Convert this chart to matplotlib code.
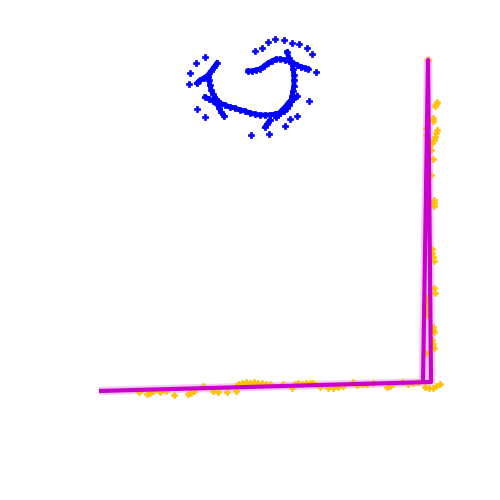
import numpy as np
import matplotlib
matplotlib.use("Agg")
import matplotlib.pyplot as plt

# coordinates (x to the right, y upwards)
# blue: loose points around the shape
blue_x = [25.5, 26.2, 26.8, 27.5, 28.4, 29.2, 29.9, 30.7, 31.2, 31.6, 30.9, 29.7,
          29.0, 28.5, 26.9, 25.1, 20.5, 19.7, 18.9, 19.0, 19.6, 20.5]
blue_y = [44.9, 45.2, 45.8, 46.1, 46.0, 45.7, 45.6, 45.2, 44.6, 42.8, 39.9, 38.4,
          38.1, 37.4, 36.6, 36.5, 38.3, 39.1, 41.6, 42.7, 43.7, 44.3]

# blue: dense strokes of the shape
arm_x = [21.7, 21.4, 21.1, 20.8, 20.4, 20.0, 19.7]
arm_y = [43.7, 43.3, 42.9, 42.5, 42.2, 42.0, 41.7]
c_x = [20.8, 20.9, 21.0, 21.1, 21.3, 21.6, 22.0, 22.5, 23.0, 23.5, 24.0, 24.5,
       25.0, 25.5, 26.0, 26.5, 27.0, 27.5, 28.0, 28.4, 28.7, 28.9, 29.1, 29.2,
       29.3, 29.4, 29.4, 29.4, 29.3, 29.2, 28.9, 28.7]
c_y = [42.3, 42.0, 41.5, 41.0, 40.6, 40.1, 39.7, 39.5, 39.3, 39.2, 39.0, 38.9,
       38.7, 38.6, 38.5, 38.5, 38.5, 38.6, 38.7, 38.9, 39.2, 39.5, 39.9, 40.4,
       40.9, 41.4, 42.0, 42.5, 43.1, 43.7, 44.2, 44.8]
top_x = [24.8, 25.2, 25.6, 26.0, 26.4, 26.8, 27.2, 27.6, 28.0, 28.5, 28.9, 29.3,
         29.7, 30.1, 30.5, 30.8]
top_y = [42.9, 42.9, 43.0, 43.1, 43.4, 43.7, 43.9, 44.1, 44.1, 44.0, 43.9, 43.7,
         43.5, 43.3, 43.2, 43.1]
left_arm_x = [20.5, 20.9, 21.3, 21.7, 21.9, 22.1, 22.4]
left_arm_y = [40.3, 40.1, 39.9, 39.6, 39.2, 38.8, 38.4]
right_arm_x = [29.7, 29.3, 28.9, 28.5, 28.1, 27.8, 27.6]
right_arm_y = [40.4, 40.1, 39.8, 39.3, 38.9, 38.5, 38.3]
short_x = [27.0, 26.7, 26.5]
short_y = [38.0, 37.6, 37.3]

# yellow points along the bottom edge
gold_bx = [13.9, 14.7, 15.0, 15.3, 16.0, 16.6, 17.4, 18.8, 19.1, 19.4, 20.3, 21.3,
           21.8, 22.7, 23.6, 23.8, 24.2, 24.6, 25.0, 25.4, 25.8, 26.2, 26.6, 27.0,
           28.3, 29.2, 29.5, 29.8, 30.2, 30.6, 31.0, 31.3, 32.0, 32.8, 33.3, 33.8,
           34.3, 35.3, 35.7, 36.3, 36.7, 37.3, 38.7, 39.0, 39.3, 40.2, 40.8, 41.3,
           41.8, 42.5, 42.9, 43.3, 43.6, 44.0]
gold_by = [10.8, 10.6, 10.7, 10.9, 10.8, 10.9, 10.5, 10.6, 10.7, 10.9, 11.4, 10.9,
           10.8, 10.8, 10.9, 11.6, 11.7, 11.8, 11.7, 11.8, 11.7, 11.7, 11.6, 11.6,
           11.6, 11.2, 11.6, 11.7, 11.6, 11.7, 11.7, 11.7, 11.3, 11.2, 11.2, 11.3,
           11.4, 11.8, 11.5, 11.6, 11.6, 11.7, 11.3, 11.4, 11.6, 11.8, 11.6, 11.7,
           11.8, 11.3, 11.2, 11.2, 11.4, 11.6]
# yellow points along the right edge
gold_rx = [42.8, 43.7, 43.6, 43.5, 43.3, 43.3, 43.7, 43.6, 43.5, 43.4, 43.2, 43.1,
           43.3, 43.1, 43.4, 43.4, 43.4, 43.2, 43.2, 43.3, 43.4, 43.4, 43.5, 43.3,
           43.3, 43.4, 43.2, 43.3, 43.4, 42.6, 42.6, 42.6, 42.6, 42.6, 42.6, 42.6]
gold_ry = [44.0, 39.8, 39.6, 39.4, 38.2, 37.9, 37.0, 36.7, 36.3, 36.0, 35.7, 35.0,
           34.1, 32.5, 30.0, 29.7, 29.4, 25.1, 24.7, 24.3, 23.9, 21.2, 20.7, 17.3,
           17.0, 16.8, 16.0, 15.6, 15.2, 14.7, 20.3, 19.7, 19.1, 18.5, 37.2, 36.5]

# fitted corner lines
fit_x = [9.9, 43.1, 42.8, 42.3]
fit_y = [10.9, 11.8, 44.0, 11.7]

fig = plt.figure(figsize=(5, 5), dpi=100)
ax = fig.add_axes([0, 0, 1, 1])

ax.plot(fit_x, fit_y, color="#cc00cc", lw=6, alpha=0.2, solid_capstyle="butt")
ax.plot(gold_bx, gold_by, "P", color="#ffc000", ms=4.5, mew=0.4, ls="none")
ax.plot(gold_rx, gold_ry, "P", color="#ffc000", ms=4.5, mew=0.4, ls="none")
ax.plot(fit_x, fit_y, color="#cc00cc", lw=3, solid_capstyle="butt")

for sx, sy in [(arm_x, arm_y), (c_x, c_y), (top_x, top_y), (left_arm_x, left_arm_y),
               (right_arm_x, right_arm_y), (short_x, short_y)]:
    ax.plot(sx, sy, "-", color="#0000ff", lw=3.5)
    ax.plot(sx, sy, "P", color="#0000ff", ms=5, mew=0.5, ls="none")
ax.plot(blue_x, blue_y, "P", color="#0000ff", ms=4.8, mew=0.5, ls="none")

ax.set_xlim(0, 50)
ax.set_ylim(0, 50)
ax.axis("off")

fig.savefig("out.png", dpi=100)
